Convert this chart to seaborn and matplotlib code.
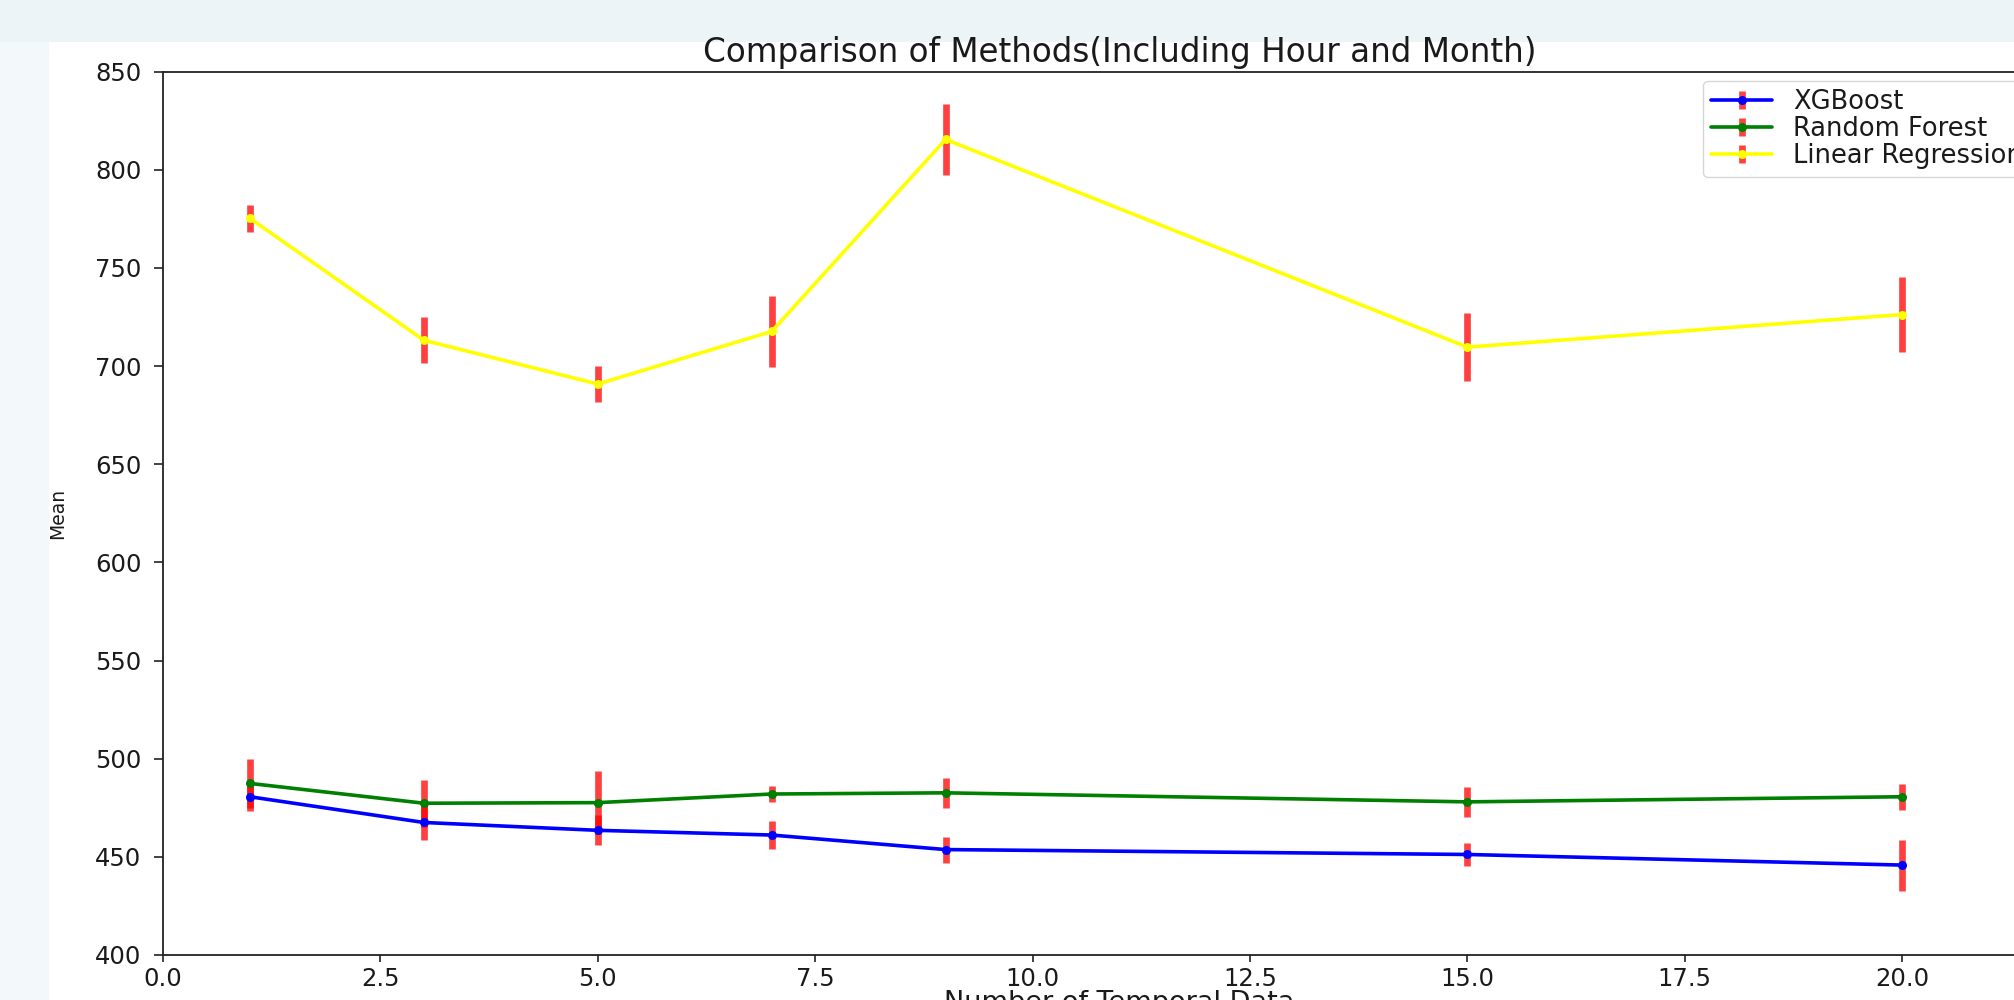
import numpy as np
import pandas as pd
import matplotlib
matplotlib.use("Agg")
import matplotlib.pyplot as plt
from matplotlib.patches import Rectangle
from matplotlib.ticker import MultipleLocator
from matplotlib.legend_handler import HandlerErrorbar
from matplotlib.container import ErrorbarContainer
import seaborn as sns

# Number of temporal features fed to each model
n_temporal = [1, 3, 5, 7, 9, 15, 20]
methods = ["XGBoost", "Random Forest", "Linear Regression"]

# Mean error and its spread per model
xgb_mean = [480.6, 467.5, 463.5, 461.1, 453.7, 451.2, 445.8]
xgb_err = [7.4, 8.9, 7.7, 7.3, 6.6, 5.8, 13.0]
rf_mean = [487.4, 477.3, 477.6, 482.0, 482.6, 478.0, 480.6]
rf_err = [12.6, 11.9, 16.2, 4.0, 7.5, 7.6, 6.5]
lr_mean = [775.2, 713.1, 690.8, 717.6, 815.4, 709.6, 726.2]
lr_err = [6.7, 11.7, 9.0, 17.9, 18.3, 17.4, 19.0]

line_colors = ["blue", "green", "yellow"]

means = [xgb_mean, rf_mean, lr_mean]
errs = [xgb_err, rf_err, lr_err]

df = pd.concat(
    [pd.DataFrame({"n": n_temporal, "mean": m, "err": e, "method": name})
     for name, m, e in zip(methods, means, errs)],
    ignore_index=True,
)

sns.set_style("ticks")
plt.rcParams["font.family"] = ["DejaVu Sans"]
text_color = "#1a1a1a"

W, H = 2014, 1000
fig = plt.figure(figsize=(W / 100, H / 100), dpi=100, facecolor="white")

# page background around the white plotting card
fig.patches.append(Rectangle((0, 1 - 42 / H), 1, 42 / H, transform=fig.transFigure,
                             facecolor="#ecf4f7", edgecolor="none", zorder=-10))
fig.patches.append(Rectangle((0, 0), 49 / W, 1 - 42 / H, transform=fig.transFigure,
                             facecolor="#f3f8fa", edgecolor="none", zorder=-10))

ax_left, ax_right, ax_top, ax_bottom = 163, 2076, 71.5, 955
ax = fig.add_axes([ax_left / W, (H - ax_bottom) / H,
                   (ax_right - ax_left) / W, (ax_bottom - ax_top) / H])
ax.set_facecolor("white")

# red spread bars underneath the lines
containers = []
for m, e in zip(means, errs):
    c = ax.errorbar(n_temporal, m, yerr=e, fmt="none", ecolor="red",
                    elinewidth=4.8, alpha=0.75, capsize=0, zorder=2)
    containers.append(c)

sns.lineplot(data=df, x="n", y="mean", hue="method", hue_order=methods,
             palette=dict(zip(methods, line_colors)), marker="o", markersize=6.5,
             markeredgewidth=0, linewidth=2.6, errorbar=None, sort=False,
             legend=False, ax=ax, zorder=3)

lines = ax.get_lines()[-len(methods):]

ax.set_xlim(0, 22)
ax.set_ylim(400, 850)
ax.xaxis.set_major_locator(MultipleLocator(2.5))
ax.yaxis.set_major_locator(MultipleLocator(50))

for side in ["left", "bottom", "top", "right"]:
    ax.spines[side].set_visible(True)
    ax.spines[side].set_color("#222222")
    ax.spines[side].set_linewidth(1.3)

ax.tick_params(axis="x", length=5, width=1.2, pad=4, labelsize=17.5,
               colors="#222222", labelcolor=text_color)
ax.tick_params(axis="y", length=6.5, width=1.2, pad=9, labelsize=17.5,
               colors="#222222", labelcolor=text_color)

ax.set_title("Comparison of Methods(Including Hour and Month)", fontsize=23.5,
             color=text_color, pad=7)
ax.set_xlabel("Number of Temporal Data", fontsize=19.5, color=text_color)
ax.xaxis.set_label_coords(0.5, (ax_bottom - 990) / (ax_bottom - ax_top))
ax.set_ylabel("Mean", fontsize=13.5, color=text_color)
ax.yaxis.set_label_coords((67 - ax_left) / (ax_right - ax_left), 0.5)

leg = ax.legend([(c, l) for c, l in zip(containers, lines)], methods,
                handler_map={ErrorbarContainer: HandlerErrorbar(xerr_size=0.35)},
                loc="upper left", bbox_to_anchor=(1703 / W, 1 - 81 / H),
                bbox_transform=fig.transFigure, borderaxespad=0,
                fontsize=18.5, handlelength=2.4, labelspacing=0.05,
                borderpad=0.3, framealpha=0.8, edgecolor="#cccccc")
for t in leg.get_texts():
    t.set_color(text_color)

fig.savefig("out.png", dpi=100, facecolor=fig.get_facecolor())
